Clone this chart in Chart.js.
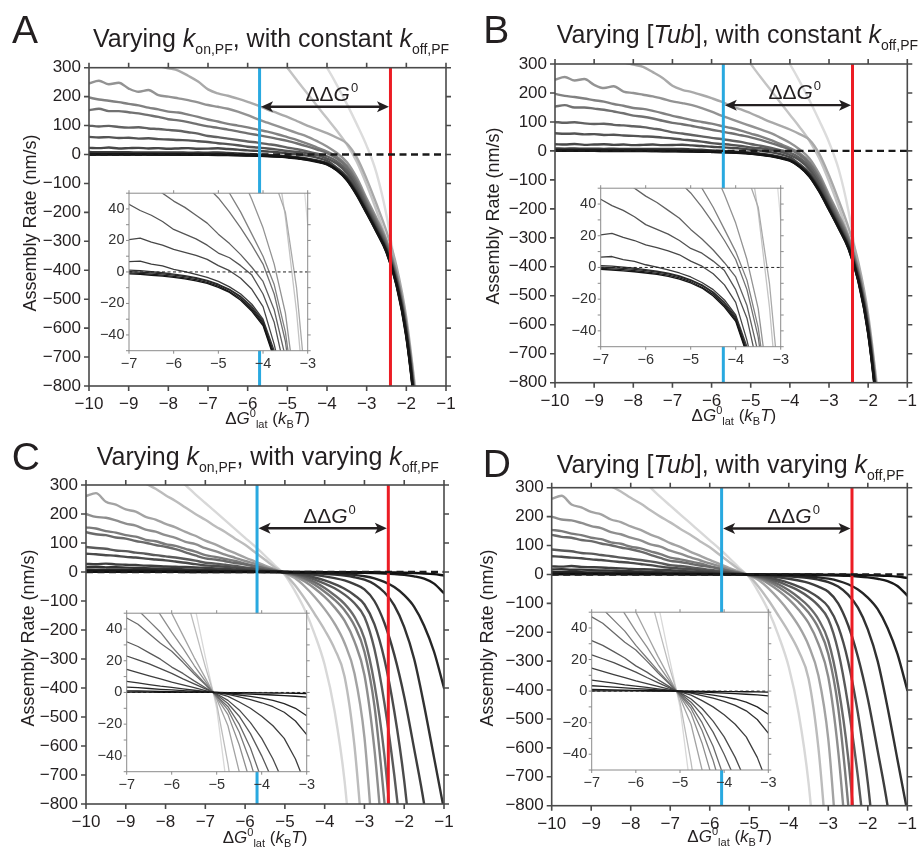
<!DOCTYPE html>
<html><head><meta charset="utf-8">
<script src="https://cdn.jsdelivr.net/npm/chart.js@4.4.1/dist/chart.umd.min.js"></script>
<style>
html,body{margin:0;padding:0;background:#fff}
#stage{position:relative;width:920px;height:855px;overflow:hidden;font-family:"Liberation Sans",Arial,Helvetica,sans-serif;color:#231f20}
canvas{position:absolute}
.t{position:absolute;white-space:nowrap;line-height:1}
.ttl{font-size:25px}
.let{font-size:39px}
.sb{font-size:14px;position:relative;top:7px}
.xt{font-size:17px;transform:translateX(-50%)}
.sp2{font-size:11px;position:relative;top:-7px}
.sb2{font-size:11px;position:relative;top:4px}
.yt{font-size:18px;transform:translate(-50%,-50%) rotate(-90deg)}
</style></head>
<body><div id="stage">
</div>
<script>
// ---------------- DATA ----------------
const N = null;
const GRID = [-10,-9.75,-9.5,-9.25,-9,-8.75,-8.5,-8.25,-8,-7.75,-7.5,-7.25,-7,-6.75,-6.5,-6.25,-6,-5.75,-5.5,-5.25,-5,-4.75,-4.5,-4.25,-4,-3.75,-3.5,-3.25,-3,-2.75,-2.5,-2.25,-2,-1.75,-1.5,-1.25,-1];

// Panels A/B: varying on-rate, constant off-rate (darkest -> lightest)
const rateA1 = [0,0,0,0,0,-0.1,-0.2,-0.3,-0.4,-0.5,-0.7,-0.9,-1.2, -1.6,-2.1,-2.7,-3.5,-4.4,-5.6,-7.3,-9.8,-13,-18,-25, -34,-55,-88,-140,-203,-268,-338,-450,-630,-930,-1350];
const rateA2 = [0.6,0.5,0.5,0.4,0.4,0.3,0.3,0.2,0.1,0,-0.1,-0.3,-0.6, -0.9,-1.4,-2,-2.8,-3.7,-4.9,-6.6,-9,-12.5,-17,-24, -33,-54,-87,-138,-201,-266,-336,-448,-627,-926,-1345];
const rateA3 = [1.6,1.5,1.5,1.4,1.3,1.3,1.2,1.1,1,0.9,0.7,0.5,0.2, -0.1,-0.6,-1.2,-2,-2.9,-4.1,-5.8,-8.2,-11.5,-16,-23, -32,-53,-85,-136,-199,-264,-334,-446,-624,-922,-1340];
const rateA4 = [3.2,3,3.1,2.8,2.7,2.6,2.5,2.3,2.2,2,1.8,1.5,1.2, 0.8,0.2,-0.5,-1.4,-2.4,-3.6,-5.3,-7.8,-11,-15.5,-22, -31,-52,-83,-134,-197,-262,-332,-443,-621,-918,-1335];
const rateA5 = [8.5,8,8.3,7.6,7.8,7.2,7.4,7,6.8,7,6.5,6.8,6.5, 6.9,5,3.8,1.7,0.2,-1.5,-3.5,-6,-9.5,-14,-20.5, -30,-50,-81,-131,-194,-259,-329,-440,-617,-913,-1330];
const rateA6 = [23,22,24,21,22,23,21,22,20,21,22,20,20.5, 21.5,19,17,14.3,12.5,10.5,8,4,0.8,-4,-11, -22,-46,-76,-126,-190,-255,-326,-436,-613,-908,-1322];
const rateA7 = [61,59,60,57,58,55,56,53,52,50,49,46,43, 39,36,32,27,24,21,17,12,9,4,-2, -14,-32,-64,-116,-184,-250,-322,-432,-608,-902,-1315];
const rateA8 = [100,97,99,95,93,94,90,88,85,82,77,72,64, 60,55,50,45,41,36,31,24,18,11,3, -6,-24,-54,-106,-176,-243,-316,-427,-602,-895,-1305];
const rateA9 = [153,158,150,150,146,142,136,130,122,118,112,104,97, 92,86,80,73,67,61,54,47,38,28,17, 5,-14,-44,-96,-168,-236,-310,-421,-596,-888,-1295];
const rateA10 = [197,190,186,181,175,170,162,156,148,145,138,130,121, 114,106,100,94,86,79,70,60,50,38,24, 10,-8,-38,-89,-161,-229,-304,-415,-590,-880,-1285];
const rateA11 = [246,255,243,248,228,217,223,205,200,194,188,180,171, 165,158,148,136,122,110,98,86,74,62,46, 28,5,-26,-80,-152,-221,-297,-409,-583,-872,-1275];
const rateA12 = [385,378,368,360,348,338,322,306,298,290,272,252,225, 211,203,193,182,170,155,143,130,115,100,87, 74,58,38,-10,-85,-172,-266,-385,-565,-855,-1255];
const rateA13 = [N,N,N,N,N, N,N,N,N,N, N,N,N,N,N, N,N,N,N, 345,300,255,212,168,125,82,35,-25,-105,-195,-295,-420,-600,-890,-1230];
const rateA14 = [N,N,N,N,N, N,N,N,N,N, N,N,N,N,N, N,N,N,N,N, N,N,N, 355,300,240,175,105,30,-65,-210,-410,-600,-830,-1180];
const curvesA = [rateA1,rateA2,rateA3,rateA4,rateA5,rateA6,rateA7,rateA8,rateA9,rateA10,rateA11,rateA12,rateA13,rateA14];
const shadesA = ['#141414','#1d1d1d','#262626','#303030','#3b3b3b','#474747','#545454','#626262','#717171','#818181','#939393','#a9a9a9','#c4c4c4','#dcdcdc'];

// Panels C/D: varying on-rate with varying off-rate (darkest -> lightest)
const rateC1 = [0.5,0.5,0.5,0.4,0.4,0.4,0.35,0.3,0.3,0.3,0.25,0.2,0.2,0.15,0.15,0.1,0.1,0.05,0.05,0.02,0, -0.1,-0.15,-0.2,-0.3,-0.35,-0.4,-0.5,-0.7,-0.9,-1.2,-1.7,-2.4,-3.5,-5,-7.5,-12];
const rateC2 = [2.5,2.5,2.4,2.3,2.2,2.1,2,1.8,1.7,1.5,1.4,1.2,1,0.9,0.8,0.6,0.5,0.4,0.2,0.1,0, -0.4,-0.7,-1,-1.3,-1.6,-2,-2.4,-3,-3.8,-5,-7,-10,-15,-23,-40,-73];
const rateC3 = [8,8,7.5,7.6,7,6.5,6.2,5.8,5.2,4.9,4.4,3.9,3.4,3,2.5,2,1.6,1.2,0.7,0.3,-0.1, -0.8,-1.6,-2.5,-3.6,-5,-7,-10,-14.7,-22,-34,-52,-80,-120,-185,-275,-400];
const rateC4 = [17,18,16,16.5,15,14,13.2,12,11,10.2,9,8,7,6,5,4,3.2,2.3,1.4,0.6,-0.3, -1.2,-2.8,-4.5,-6.5,-9,-12.5,-18,-26.6,-42,-70,-115,-190,-300,-460,-640,-820];
const rateC5 = [28,27,29,26,25,24,22,21,19,18,17,15.5,14.5,12.5,10.5,8.5,6.5,4.8,3,1.2,-0.5, -2.5,-6,-10,-15,-21,-29,-42,-60,-100,-175,-285,-430,-610,-800,-1050];
const rateC6 = [63,61,58,56,52,50,46,43,40,36,32,27,23,20.5,18,15,12,8.6,5.4,2.2,-1, -5,-11,-19,-29,-42,-58,-80,-112,-180,-300,-480,-720,-1050];
const rateC7 = [86,83,80,74,72,67,63,58,54,50,45,39,32,29,25,21,16,12,7.3,3,-1.4, -7,-15,-26,-40,-56,-78,-108,-155,-265,-450,-700,-1000];
const rateC8 = [137,130,127,119,115,107,101,93,87,79,68,57,47,43,37,31,26,19,11.6,4.8,-2.2, -9,-20,-35,-55,-80,-110,-155,-230,-385,-630,-1000];
const rateC9 = [154,150,141,136,127,122,111,106,96,90,80,70,58,52,45,38,29,21,13,5.4,-2.5, -11,-25,-44,-68,-96,-132,-185,-275,-460,-790,-1200];
const rateC10 = [200,190,187,178,167,160,146,139,127,118,104,96,82,72,60,49,38,28,17,7,-3.2, -14,-33,-57,-86,-122,-168,-240,-355,-610,-1000];
const rateC11 = [262,272,242,232,216,208,190,181,166,154,138,125,108,95,79,65,50,36,22,9,-4.2, -21,-50,-86,-128,-178,-245,-350,-570,-1000];
const rateC12 = [410,395,382,365,345,325,305,287,265,245,222,200,180,158,138,115,94,68,42,16,-7, -45,-92,-145,-200,-265,-360,-600,-1000];
const rateC13 = [N,N,N,N,N,N,N,N,N, 330,300,268,238,208,178,148,118,88,56,22,-10, -65,-130,-215,-320,-480,-720,-1100];
const curvesC = [rateC1,rateC2,rateC3,rateC4,rateC5,rateC6,rateC7,rateC8,rateC9,rateC10,rateC11,rateC12,rateC13];
const shadesC = ['#0f0f0f','#1a1a1a','#262626','#323232','#3e3e3e','#4b4b4b','#5a5a5a','#6a6a6a','#7b7b7b','#8e8e8e','#a3a3a3','#bcbcbc','#d8d8d8'];

// Panel B looks identical to A, panel D identical to C
const curvesB = curvesA, shadesB = shadesA, curvesD = curvesC, shadesD = shadesC;

// axes / ticks
const MAIN_X = [-10,-1], MAIN_Y = [-800,300];
const MAIN_X_TICKS = [-10,-9,-8,-7,-6,-5,-4,-3,-2,-1];
const MAIN_Y_TICKS = [300,200,100,0,-100,-200,-300,-400,-500,-600,-700,-800];
const INSET_X = [-7,-3], INSET_Y = [-50,50];
const INSET_X_TICKS = [-7,-6,-5,-4,-3];
const INSET_Y_TICKS = [50,40,30,20,10,0,-10,-20,-30,-40,-50];
const INSET_Y_LABELED = [40,20,0,-20,-40];
const BLUE_X = -5.7, RED_X = -2.4;
const ARROW_Y = {A:165, B:158, C:151, D:159};
const ARROW_LABEL_Y = {A:186, B:178, C:168, D:177};

// ---------------- LAYOUT (page pixels) ----------------
const LAYOUT = {
  A:{box:[0,0,460,430], area:[89,67.7,446,386], inset:[129,191,307.7,350.7]},
  B:{box:[460,0,460,430], area:[555,64,912.7,382.7], inset:[600.7,186.7,780.7,346.7]},
  C:{box:[0,430,460,425], area:[86,485,444,804], inset:[126.7,611,306.7,771.7]},
  D:{box:[460,430,460,425], area:[551.7,487.7,907.7,805.7], inset:[591.7,610,768.3,770]}
};
const CURVES = {A:[curvesA,shadesA], B:[curvesB,shadesB], C:[curvesC,shadesC], D:[curvesD,shadesD]};

const FONT = '"Liberation Sans", Arial, Helvetica, sans-serif';
const fmt = v => String(v).replace('-', '\u2212');
const stage = document.getElementById('stage');

function makeCanvas(l, t, w, h) {
  const c = document.createElement('canvas');
  c.width = w; c.height = h;
  c.style.left = l + 'px'; c.style.top = t + 'px';
  c.style.width = w + 'px'; c.style.height = h + 'px';
  stage.appendChild(c);
  return c;
}

function toPts(arr) { return arr.slice(0, GRID.length).map((v, i) => ({x: GRID[i], y: v})); }

function framePlugin(cfg) {
  return {
    id: 'frame',
    beforeDatasetsDraw(chart) {
      if (!cfg.fill) return;
      const a = chart.chartArea, ctx = chart.ctx;
      ctx.save(); ctx.fillStyle = '#fff';
      ctx.fillRect(a.left, a.top, a.right - a.left, a.bottom - a.top);
      ctx.restore();
    },
    afterDatasetsDraw(chart) {
      const a = chart.chartArea, ctx = chart.ctx, xs = chart.scales.x, ys = chart.scales.y;
      ctx.save();
      ctx.strokeStyle = cfg.color; ctx.lineWidth = cfg.width;
      ctx.beginPath();
      xs.ticks.forEach(t => { const p = xs.getPixelForValue(t.value);
        ctx.moveTo(p, a.bottom); ctx.lineTo(p, a.bottom + cfg.tick);
        ctx.moveTo(p, a.top); ctx.lineTo(p, a.top - cfg.tick); });
      ys.ticks.forEach(t => { const p = ys.getPixelForValue(t.value);
        ctx.moveTo(a.left, p); ctx.lineTo(a.left - cfg.tick, p);
        ctx.moveTo(a.right, p); ctx.lineTo(a.right + cfg.tick, p); });
      ctx.stroke();
      ctx.strokeRect(a.left, a.top, a.right - a.left, a.bottom - a.top);
      if (cfg.arrow) {
        const bx = xs.getPixelForValue(BLUE_X), rx = xs.getPixelForValue(RED_X);
        const x1 = bx + 1.5, x2 = rx - 1.5, py = ys.getPixelForValue(cfg.arrow.y);
        ctx.strokeStyle = '#231f20'; ctx.fillStyle = '#231f20'; ctx.lineWidth = 2.4;
        ctx.beginPath(); ctx.moveTo(x1 + 8, py); ctx.lineTo(x2 - 8, py); ctx.stroke();
        const head = (tx, d) => { ctx.beginPath(); ctx.moveTo(tx, py); ctx.lineTo(tx + d*12, py - 5.5);
          ctx.lineTo(tx + d*9, py); ctx.lineTo(tx + d*12, py + 5.5); ctx.closePath(); ctx.fill(); };
        head(x1, 1); head(x2, -1);
        const by = ys.getPixelForValue(cfg.arrow.label);
        let tx = (bx + rx) / 2 - 19.5;
        ctx.textAlign = 'left'; ctx.textBaseline = 'alphabetic';
        ctx.font = '21px ' + FONT; ctx.fillText('\u0394\u0394', tx, by); tx += ctx.measureText('\u0394\u0394').width;
        ctx.font = 'italic 21px ' + FONT; ctx.fillText('G', tx, by); tx += ctx.measureText('G').width + 1;
        ctx.font = '13px ' + FONT; ctx.fillText('0', tx, by - 9);
      }
      ctx.restore();
    }
  };
}

function buildChart(opt) {
  const [bl, bt, bw, bh] = opt.box;
  const [al, at, ar, ab] = opt.area;
  const canvas = makeCanvas(bl, bt, bw, bh);
  const padding = {left: al - bl - opt.yW, top: at - bt, right: bl + bw - ar, bottom: bt + bh - ab - opt.xH};
  return new Chart(canvas, {
    type: 'line',
    data: {datasets: opt.datasets},
    options: {
      responsive: false, animation: false, devicePixelRatio: 1, events: [],
      layout: {padding},
      plugins: {legend: {display: false}, tooltip: {enabled: false}},
      scales: {
        x: {type: 'linear', min: opt.xr[0], max: opt.xr[1],
            afterBuildTicks: s => { s.ticks = opt.xt.map(v => ({value: v})); },
            afterFit: s => { s.height = opt.xH; },
            grid: {display: false, drawTicks: true, tickLength: opt.tl},
            border: {display: false},
            ticks: {autoSkip: false, maxRotation: 0, minRotation: 0, padding: opt.pad,
                    font: {family: FONT, size: opt.fs}, color: opt.tc, callback: v => fmt(v)}},
        y: {type: 'linear', min: opt.yr[0], max: opt.yr[1],
            afterBuildTicks: s => { s.ticks = opt.yt.map(v => ({value: v})); },
            afterFit: s => { s.width = opt.yW; },
            grid: {display: false, drawTicks: true, tickLength: opt.tl},
            border: {display: false},
            ticks: {autoSkip: false, padding: opt.pad, font: {family: FONT, size: opt.fs}, color: opt.tc,
                    callback: v => (opt.ylab ? (opt.ylab.includes(v) ? fmt(v) : '') : fmt(v))}}
      }
    },
    plugins: [framePlugin(opt.frame)]
  });
}

function curveSets(curves, shades, w, smooth) {
  return curves.map((c, i) => ({data: toPts(c), borderColor: shades[i], borderWidth: w,
    pointRadius: 0, pointHitRadius: 0, tension: 0, clip: 0, fill: false, spanGaps: false,
    cubicInterpolationMode: smooth ? 'monotone' : 'default',
    borderJoinStyle: 'round', borderCapStyle: 'round'}));
}

['A','B','C','D'].forEach(k => {
  const L = LAYOUT[k], [curves, shades] = CURVES[k];
  const mainSets = [
    {data: [{x: MAIN_X[0], y: 0}, {x: MAIN_X[1], y: 0}], borderColor: '#1a1a1a', borderWidth: 2.4, borderDash: [7, 4.5], pointRadius: 0, clip: 0},
    {data: [{x: BLUE_X, y: MAIN_Y[0]}, {x: BLUE_X, y: MAIN_Y[1]}], borderColor: '#29a9e0', borderWidth: 3, pointRadius: 0, clip: 0},
    {data: [{x: RED_X, y: MAIN_Y[0]}, {x: RED_X, y: MAIN_Y[1]}], borderColor: '#ec1c24', borderWidth: 3, pointRadius: 0, clip: 0}
  ].concat(curveSets(curves, shades, 2.4, true));
  buildChart({box: L.box, area: L.area, yW: 60, xH: 30, xr: MAIN_X, yr: MAIN_Y, xt: MAIN_X_TICKS, yt: MAIN_Y_TICKS,
    tl: 5, pad: 3, fs: 17, tc: '#231f20', datasets: mainSets,
    frame: {color: '#4a4a4a', width: 1.6, tick: 5, fill: false, arrow: {y: ARROW_Y[k], label: ARROW_LABEL_Y[k]}}});

  const [il, it, ir, ib] = L.inset;
  const bl = Math.floor(il - 40), bt = Math.floor(it - 8), br = Math.ceil(ir + 10), bb = Math.ceil(ib + 26);
  const insetSets = [
    {data: [{x: INSET_X[0], y: 0}, {x: INSET_X[1], y: 0}], borderColor: '#222', borderWidth: 1, borderDash: [3, 2.5], pointRadius: 0, clip: 0}
  ].concat(curveSets(curves, shades, 1.3, false));
  buildChart({box: [bl, bt, br - bl, bb - bt], area: L.inset, yW: 34, xH: 22, xr: INSET_X, yr: INSET_Y,
    xt: INSET_X_TICKS, yt: INSET_Y_TICKS, ylab: INSET_Y_LABELED, tl: 3, pad: 1.5, fs: 14.5, tc: '#333',
    datasets: insetSets, frame: {color: '#8a8a8a', width: 1, tick: 3, fill: true}});
});

// ---------------- TEXT ----------------
const TEXTS = [
  ['let', 12, 10.3, 'A'], ['let', 483.3, 10.3, 'B'], ['let', 11.7, 437, 'C'], ['let', 482.7, 443.7, 'D'],
  ['ttl', 93, 25.5, 'Varying <i>k</i><span class="sb">on,PF</span>, with constant <i>k</i><span class="sb">off,PF</span>'],
  ['ttl', 556.7, 22.1, 'Varying [<i>Tub</i>], with constant <i>k</i><span class="sb">off,PF</span>'],
  ['ttl', 96.7, 443.8, 'Varying <i>k</i><span class="sb">on,PF</span>, with varying <i>k</i><span class="sb">off,PF</span>'],
  ['ttl', 556.7, 452.1, 'Varying [<i>Tub</i>], with varying <i>k</i><span class="sb">off,PF</span>']
];
const XTITLE = '\u0394<i>G</i><span class="sp2">0</span><span class="sb2">lat</span> (<i>k</i><span class="sb2">B</span><i>T</i>)';
const XT_POS = [[267.5, 409.6], [733.9, 406.6], [265, 828.9], [729.7, 827.6]];
const YT_POS = [[30, 222.5], [493, 216], [28.3, 637.5], [486.7, 637.5]];
TEXTS.forEach(([c, l, t, h]) => { const d = document.createElement('div'); d.className = 't ' + c; d.style.left = l + 'px'; d.style.top = t + 'px'; d.innerHTML = h; stage.appendChild(d); });
XT_POS.forEach(([l, t]) => { const d = document.createElement('div'); d.className = 't xt'; d.style.left = l + 'px'; d.style.top = t + 'px'; d.innerHTML = XTITLE; stage.appendChild(d); });
YT_POS.forEach(([l, t]) => { const d = document.createElement('div'); d.className = 't yt'; d.style.left = l + 'px'; d.style.top = t + 'px'; d.textContent = 'Assembly Rate (nm/s)'; stage.appendChild(d); });
</script>
</body></html>
